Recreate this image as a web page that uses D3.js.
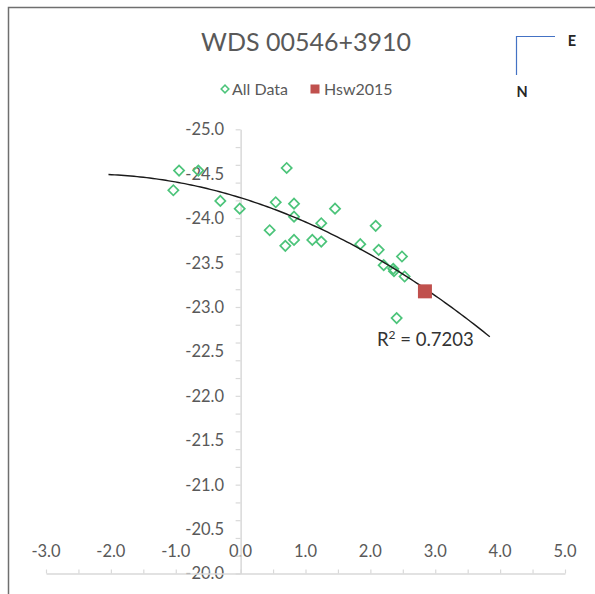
<!DOCTYPE html>
<html>
<head>
<meta charset="utf-8">
<script src="https://cdn.jsdelivr.net/npm/d3@7"></script>
<style>
  html, body { margin: 0; padding: 0; background: #fff; }
  svg { display: block; font-family: Lato, "Open Sans", sans-serif; }
</style>
</head>
<body>
<svg id="chart" width="595" height="594"></svg>
<script>
// Relative position measurements (E offset, N offset)
const allX = [-0.949, -0.652, -1.037, -0.313, -0.014, 0.710, 0.541, 0.823, 0.823, 1.455,
              1.243, 0.448, 0.689, 0.823, 1.105, 1.243, 2.082, 1.844, 2.128, 2.487,
              2.205, 2.353, 2.364, 2.528, 2.405, 2.841];
const allY = [-24.535, -24.535, -24.314, -24.194, -24.107, -24.565, -24.179, -24.163, -24.017, -24.107,
              -23.943, -23.864, -23.688, -23.755, -23.755, -23.736, -23.913, -23.707, -23.643, -23.568,
              -23.471, -23.429, -23.403, -23.343, -22.875, -23.176];
const hswX = [2.841];
const hswY = [-23.176];

const titleText = "WDS 00546+3910";
const legendNames = ["All Data", "Hsw2015"];
const rSquaredValue = "0.7203";
const xLabelValues = [-3, -2, -1, 0, 1, 2, 3, 4, 5];
const yLabelValues = [-25, -24.5, -24, -23.5, -23, -22.5, -22, -21.5, -21, -20.5, -20];
const xMinorStep = 0.5;
const yMinorStep = 0.2;

const svg = d3.select("#chart");
const W = 595, H = 594;

// scales (y runs downward from -25 to -20)
const x = d3.scaleLinear().domain([-3, 5]).range([46, 565]);
const y = d3.scaleLinear().domain([-25, -20]).range([129.3, 573.5]);

const axisColor = "#d9d9d9";
const textGray = "#595959";
const green = "#4cc47a";
const red = "#c0504d";

// chart frame
svg.append("rect")
  .attr("x", 8.5).attr("y", 7.5)
  .attr("width", W + 20).attr("height", H + 20)
  .attr("fill", "none").attr("stroke", "#6f6f6f").attr("stroke-width", 1.5);

// title
svg.append("text")
  .attr("x", 306).attr("y", 51)
  .attr("text-anchor", "middle")
  .attr("font-size", 25).attr("fill", textGray)
  .text(titleText);

// legend
const leg = svg.append("g");
leg.append("path")
  .attr("d", d3.symbol(d3.symbolSquare, 30)())
  .attr("transform", `translate(225,89) rotate(45)`)
  .attr("fill", "#fff").attr("stroke", green).attr("stroke-width", 1.5);
leg.append("text").attr("x", 232).attr("y", 94.5)
  .attr("font-size", 16).attr("fill", textGray).text(legendNames[0]);
leg.append("rect")
  .attr("x", 310.5).attr("y", 84.5).attr("width", 9).attr("height", 9)
  .attr("fill", red);
leg.append("text").attr("x", 324).attr("y", 94.5)
  .attr("font-size", 16).attr("fill", textGray).text(legendNames[1]);

// compass
const comp = svg.append("g");
comp.append("path")
  .attr("d", "M555,36.5 H516.5 V75")
  .attr("fill", "none").attr("stroke", "#4472c4").attr("stroke-width", 1.2);
comp.append("text").attr("x", 572).attr("y", 46)
  .attr("text-anchor", "middle").attr("font-size", 14.5).attr("font-weight", 700)
  .attr("fill", "#262626").text("E");
comp.append("text").attr("x", 522).attr("y", 97)
  .attr("text-anchor", "middle").attr("font-size", 14.5).attr("font-weight", 700)
  .attr("fill", "#262626").text("N");

// plain hyphen for negative numbers
const fmt = v => d3.format(".1f")(v).replace("\u2212", "-");

// y axis tick labels (left of the vertical axis)
svg.append("g").selectAll("text")
  .data(yLabelValues).join("text")
  .attr("x", 224).attr("y", d => y(d)).attr("dy", "0.36em")
  .attr("text-anchor", "end").attr("font-size", 16.5).attr("fill", textGray)
  .text(d => fmt(d));

// x axis tick labels (above the horizontal axis)
svg.append("g").selectAll("text")
  .data(xLabelValues).join("text")
  .attr("x", d => x(d)).attr("y", 556.5)
  .attr("text-anchor", "middle").attr("font-size", 16.5).attr("fill", textGray)
  .text(d => fmt(d));

// vertical axis through x = 0
const yMinor = d3.range(-25, -20 + 1e-6, yMinorStep);
const yAxis = d3.axisLeft(y).tickValues(yMinor).tickSize(5).tickFormat("").tickSizeOuter(0);
const gy = svg.append("g").attr("transform", `translate(${x(0)},0)`).call(yAxis);
gy.select(".domain").attr("stroke", axisColor).attr("stroke-width", 1.5);
gy.selectAll(".tick line").attr("stroke", axisColor).attr("stroke-width", 1.2);

// horizontal axis at y = -20, ticks pointing up
const xMinor = d3.range(-3, 5 + 1e-6, xMinorStep);
const xAxis = d3.axisTop(x).tickValues(xMinor).tickSize(4).tickFormat("").tickSizeOuter(0);
const gx = svg.append("g").attr("transform", `translate(0,${y(-20)})`).call(xAxis);
gx.select(".domain").attr("stroke", axisColor).attr("stroke-width", 1.5);
gx.selectAll(".tick line").attr("stroke", axisColor).attr("stroke-width", 1.2);

// quadratic least-squares trend of all measurements
function polyfit2(xs, ys) {
  const s = [0, 0, 0, 0, 0], t = [0, 0, 0];
  xs.forEach((xi, i) => {
    let p = 1;
    for (let k = 0; k < 5; k++) { s[k] += p; if (k < 3) t[k] += p * ys[i]; p *= xi; }
  });
  const A = [[s[0], s[1], s[2], t[0]], [s[1], s[2], s[3], t[1]], [s[2], s[3], s[4], t[2]]];
  for (let c = 0; c < 3; c++) {
    for (let r = c + 1; r < 3; r++) {
      const f = A[r][c] / A[c][c];
      for (let k = c; k < 4; k++) A[r][k] -= f * A[c][k];
    }
  }
  const coef = [0, 0, 0];
  for (let r = 2; r >= 0; r--) {
    let v = A[r][3];
    for (let k = r + 1; k < 3; k++) v -= A[r][k] * coef[k];
    coef[r] = v / A[r][r];
  }
  return coef;
}
const coef = polyfit2(allX, allY);
const trendX0 = d3.min(allX) - 1, trendX1 = d3.max(allX) + 1;
const trendPts = d3.range(0, 121).map(i => {
  const xv = trendX0 + (trendX1 - trendX0) * i / 120;
  return [xv, coef[0] + coef[1] * xv + coef[2] * xv * xv];
});

// all measurements as hollow diamonds
svg.append("g").selectAll("path")
  .data(allX.map((d, i) => [d, allY[i]])).join("path")
  .attr("d", d3.symbol(d3.symbolSquare, 52)())
  .attr("transform", d => `translate(${x(d[0])},${y(d[1])}) rotate(45)`)
  .attr("fill", "none").attr("stroke", green).attr("stroke-width", 1.7);

// trend curve
svg.append("path")
  .datum(trendPts)
  .attr("d", d3.line().x(d => x(d[0])).y(d => y(d[1])))
  .attr("fill", "none").attr("stroke", "#1a1a1a").attr("stroke-width", 1.4);

// Hsw2015 measurement
svg.append("g").selectAll("path")
  .data(hswX.map((d, i) => [d, hswY[i]])).join("path")
  .attr("d", d3.symbol(d3.symbolSquare, 196)())
  .attr("transform", d => `translate(${x(d[0])},${y(d[1])})`)
  .attr("fill", red);

// coefficient of determination label
const rt = svg.append("text").attr("x", 377).attr("y", 346)
  .attr("font-size", 18.5).attr("fill", "#333");
rt.append("tspan").text("R");
rt.append("tspan").attr("font-size", 12).attr("dy", -7).text("2");
rt.append("tspan").attr("dy", 7).text(" = " + rSquaredValue);
</script>
</body>
</html>
